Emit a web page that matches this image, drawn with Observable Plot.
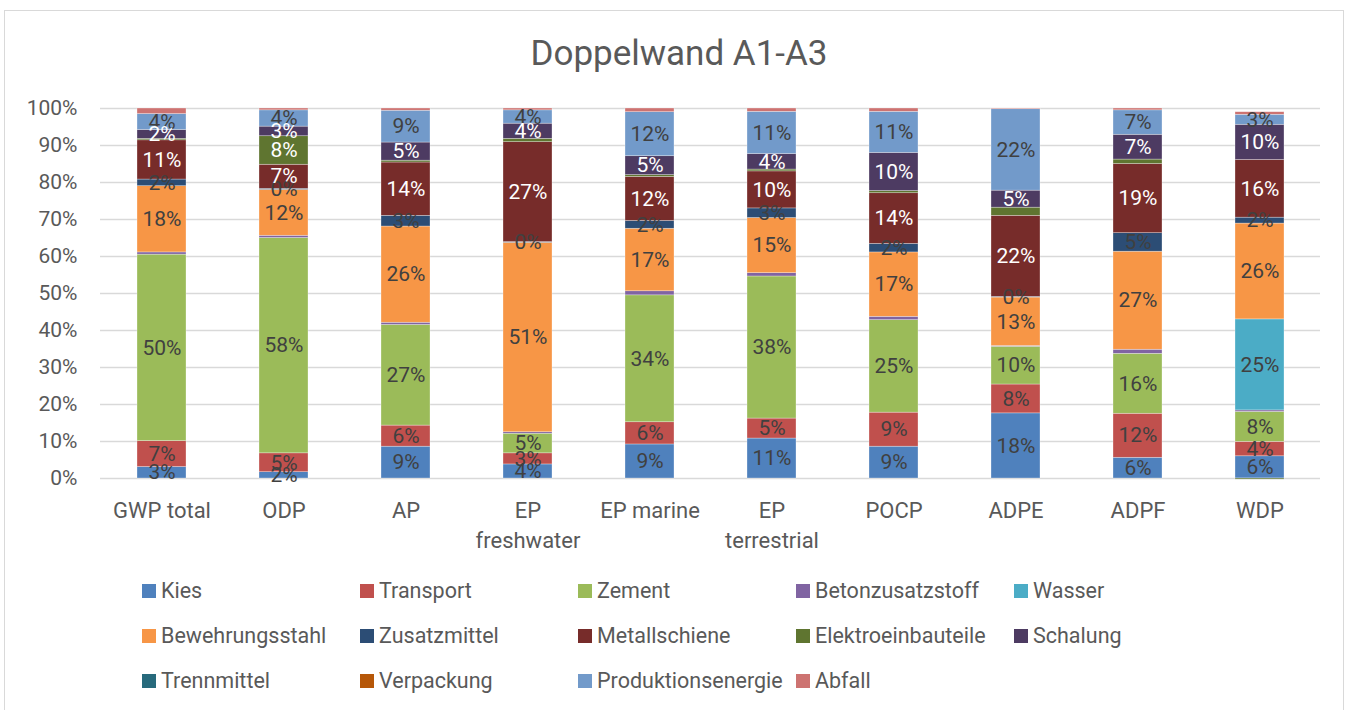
<!DOCTYPE html>
<html>
<head>
<meta charset="utf-8">
<script src="https://cdn.jsdelivr.net/npm/d3@7"></script>
<script src="https://cdn.jsdelivr.net/npm/@observablehq/plot@0.6"></script>
<style>
  html, body { margin: 0; padding: 0; background: #fff; }
  #root { position: relative; width: 1352px; height: 710px; overflow: hidden; font-family: Roboto, "Open Sans", sans-serif; color: #595959; }
  #frame { position: absolute; left: 4px; top: 10px; width: 1340px; height: 720px; border: 1.5px solid #d9d9d9; box-sizing: border-box; }
  #title { position: absolute; left: 4px; width: 1350px; top: 34px; text-align: center; font-size: 35px; line-height: 40px; color: #595959; }
  #chart { position: absolute; left: 0; top: 90px; }
  .lg { position: absolute; font-size: 21.5px; line-height: 24px; color: #595959; white-space: nowrap; }
  .sw { position: absolute; width: 14px; height: 14px; }
</style>
</head>
<body>
<div id="root">
  <div id="frame"></div>
  <div id="title"></div>
  <div id="chart"></div>
  <div id="legend"></div>
</div>
<script>
const title = "Doppelwand A1-A3";
const categories = ["GWP total", "ODP", "AP", "EP freshwater", "EP marine", "EP terrestrial", "POCP", "ADPE", "ADPF", "WDP"];
const axisLabels = ["GWP total", "ODP", "AP", "EP\nfreshwater", "EP marine", "EP\nterrestrial", "POCP", "ADPE", "ADPF", "WDP"];
const seriesNames = ["Kies", "Transport", "Zement", "Betonzusatzstoff", "Wasser", "Bewehrungsstahl", "Zusatzmittel", "Metallschiene", "Elektroeinbauteile", "Schalung", "Trennmittel", "Verpackung", "Produktionsenergie", "Abfall"];
const colors = ["#4F81BD", "#C0504D", "#9BBB59", "#8064A2", "#4BACC6", "#F79646", "#2C4D75", "#772C2A", "#5F7530", "#4D3B62", "#276A7C", "#B65708", "#729ACA", "#CD7371"];
const legendOrder = ["Kies", "Transport", "Zement", "Betonzusatzstoff", "Wasser", "Bewehrungsstahl", "Zusatzmittel", "Metallschiene", "Elektroeinbauteile", "Schalung", "Trennmittel", "Verpackung", "Produktionsenergie", "Abfall"];
const yTicks = [0, 10, 20, 30, 40, 50, 60, 70, 80, 90, 100];
const yTickLabels = ["0%", "10%", "20%", "30%", "40%", "50%", "60%", "70%", "80%", "90%", "100%"];

// shares in percent, per category (same order as categories)
const kies               = [3.1, 1.7, 8.6, 3.8, 9.2, 10.8, 8.6, 17.6, 5.6, 6.0];
const transport          = [7.0, 5.1, 5.7, 3.0, 6.0, 5.4, 9.2, 7.8, 11.9, 3.9];
const zement             = [50.4, 58.2, 27.2, 5.3, 34.3, 38.4, 25.0, 10.2, 16.2, 8.1];
const betonzusatzstoff   = [0.6, 0.6, 0.6, 0.4, 1.1, 0.9, 0.9, 0.2, 1.1, 0.4];
const wasser             = [0, 0, 0, 0, 0, 0, 0, 0, 0, 24.6];
const bewehrungsstahl    = [17.9, 12.4, 26.0, 51.2, 16.9, 14.9, 17.4, 13.1, 26.5, 25.9];
const zusatzmittel       = [1.8, 0.3, 2.9, 0.2, 2.1, 2.6, 2.3, 0.2, 5.0, 1.6];
const metallschiene      = [10.6, 6.5, 14.4, 27.0, 11.9, 10.0, 13.7, 21.9, 18.7, 15.6];
const elektroeinbauteile = [0.4, 7.7, 0.5, 0.9, 0.5, 0.5, 0.6, 2.2, 1.2, -0.3];
const schalung           = [2.4, 2.6, 4.9, 4.1, 5.1, 4.2, 10.3, 4.6, 6.7, 9.5];
const trennmittel        = [0, 0, 0, 0, 0, 0, 0, 0, 0, 0];
const verpackung         = [0, 0, 0, 0, 0, 0, 0, 0, 0, 0];
const produktionsenergie = [4.3, 4.4, 8.6, 3.6, 11.9, 11.4, 11.1, 22.0, 6.6, 2.7];
const abfall             = [1.5, 0.5, 0.6, 0.5, 1.0, 0.9, 0.9, 0.2, 0.5, 0.7];

const seriesValues = [kies, transport, zement, betonzusatzstoff, wasser, bewehrungsstahl, zusatzmittel, metallschiene, elektroeinbauteile, schalung, trennmittel, verpackung, produktionsenergie, abfall];
const unlabeled = ["Betonzusatzstoff", "Trennmittel", "Verpackung", "Abfall"];
const whiteLabel = ["Metallschiene", "Schalung", "Elektroeinbauteile"];

const rows = seriesNames.flatMap((s, i) => categories.map((c, j) => ({series: s, category: c, value: seriesValues[i][j]})));

function labelOf(d) {
  if (unlabeled.includes(d.series)) return null;
  if (d.value === 0) return null;
  if (d.series === "Elektroeinbauteile" && d.value < 3) return null;
  return Math.round(d.value) + "%";
}

document.getElementById("title").textContent = title;

const chart = Plot.plot({
  width: 1352,
  height: 470,
  marginTop: 18,
  marginBottom: 82,
  marginLeft: 100,
  marginRight: 32,
  style: {fontFamily: "Roboto, sans-serif", fontSize: "21px", color: "#595959", background: "transparent"},
  x: {domain: categories, paddingInner: 0.6, paddingOuter: 0.3, label: null},
  y: {domain: [0, 100], label: null},
  color: {domain: seriesNames, range: colors},
  marks: [
    Plot.ruleY(yTicks, {stroke: "#d9d9d9", strokeWidth: 1.3}),
    Plot.barY(rows, {x: "category", y: "value", fill: "series", order: seriesNames, stroke: "white", strokeWidth: 0.6, strokeOpacity: 0.5}),
    Plot.text(rows, Plot.stackY({x: "category", y: "value", z: "series", order: seriesNames,
      text: d => whiteLabel.includes(d.series) ? null : labelOf(d), fill: "#404040", fontSize: 21})),
    Plot.text(rows, Plot.stackY({x: "category", y: "value", z: "series", order: seriesNames,
      text: d => whiteLabel.includes(d.series) ? labelOf(d) : null, fill: "white", fontSize: 21})),
    Plot.axisY({ticks: yTicks, tickFormat: d => yTickLabels[yTicks.indexOf(d)], tickSize: 0, tickPadding: 23, fontSize: 21, label: null}),
    Plot.axisX({tickFormat: d => axisLabels[categories.indexOf(d)], tickSize: 0, tickPadding: 18, fontSize: 22, lineHeight: 1.38, label: null})
  ]
});
document.getElementById("chart").appendChild(chart);

const legend = document.getElementById("legend");
const rowsY = [591, 636, 681];
legendOrder.forEach((name, k) => {
  const r = Math.floor(k / 5), c = k % 5;
  const x = 142 + 218 * c, y = rowsY[r];
  const sw = document.createElement("div");
  sw.className = "sw";
  sw.style.left = x + "px";
  sw.style.top = (y - 7) + "px";
  sw.style.background = colors[seriesNames.indexOf(name)];
  legend.appendChild(sw);
  const t = document.createElement("div");
  t.className = "lg";
  t.style.left = (x + 19) + "px";
  t.style.top = (y - 12) + "px";
  t.textContent = name;
  legend.appendChild(t);
});
</script>
</body>
</html>
